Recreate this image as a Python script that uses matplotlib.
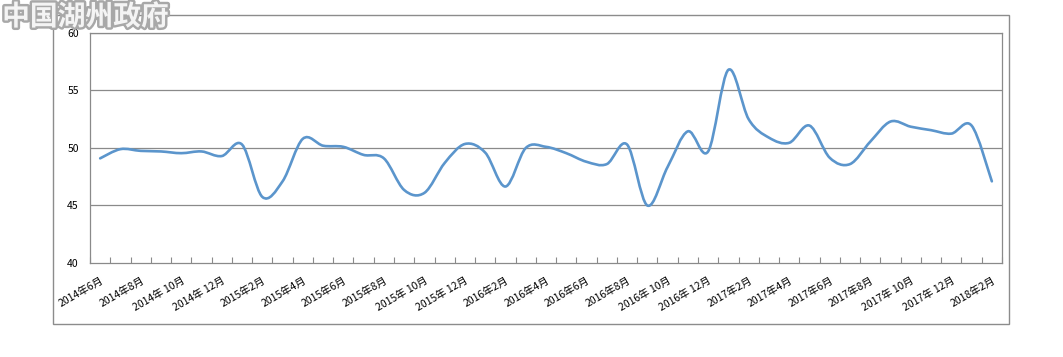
"""
Monthly index line chart, 2014-06 to 2018-02 (Excel-style smoothed line).
"""

import matplotlib

matplotlib.use("Agg")
import matplotlib.pyplot as plt
import matplotlib.patheffects as pe
import numpy as np
from matplotlib.patches import PathPatch, Rectangle
from matplotlib.path import Path

plt.rcParams["font.family"] = ["Noto Sans CJK SC", "DejaVu Sans"]

# data, one value per month from 2014年6月 to 2018年2月
YEARS = [2014] * 7 + [2015] * 12 + [2016] * 12 + [2017] * 12 + [2018] * 2
MONTHS = list(range(6, 13)) + list(range(1, 13)) * 3 + [1, 2]
VALUES = [
    49.1, 49.9, 49.75, 49.7, 49.55, 49.7, 49.3,
    50.3, 45.75, 47.1, 50.8, 50.2, 50.1, 49.4, 49.1, 46.35, 46.1, 48.7, 50.35,
    49.6, 46.65, 50.0, 50.1, 49.55, 48.8, 48.6, 50.3, 45.0, 48.35, 51.45, 49.7,
    56.8, 52.5, 50.9, 50.45, 51.95, 49.15, 48.6, 50.55, 52.3, 51.85, 51.55, 51.25,
    51.95, 47.1,
]
Y_TICKS = [40, 45, 50, 55, 60]

LINE_COLOR = "#5b95cc"
GRID_COLOR = "#8a8a8a"
BORDER_COLOR = "#8c8c8c"


def smooth_path(xs, ys, tension=1 / 6):
    """Catmull-Rom style bezier path through the points (like Excel's smoothed line)."""
    pts = np.column_stack([xs, ys])
    n = len(pts)
    verts = [pts[0]]
    codes = [Path.MOVETO]
    for i in range(n - 1):
        p0 = pts[max(i - 1, 0)]
        p1 = pts[i]
        p2 = pts[i + 1]
        p3 = pts[min(i + 2, n - 1)]
        c1 = p1 + (p2 - p0) * tension
        c2 = p2 - (p3 - p1) * tension
        verts += [c1, c2, p2]
        codes += [Path.CURVE4] * 3
    return Path(verts, codes)


fig = plt.figure(figsize=(10.63, 3.57), dpi=100)
ax = fig.add_axes([0.0847, 0.2633, 0.8579, 0.6443])

x = np.arange(len(VALUES))
ax.add_patch(
    PathPatch(
        smooth_path(x, VALUES),
        facecolor="none",
        edgecolor=LINE_COLOR,
        linewidth=1.9,
        capstyle="round",
        joinstyle="round",
        zorder=3,
    )
)

ax.set_xlim(-0.5, len(VALUES) - 0.5)
ax.set_ylim(40, 60)

ax.set_yticks(Y_TICKS)
ax.set_yticklabels([str(v) for v in Y_TICKS], fontsize=7.5)
ax.tick_params(axis="y", length=0, pad=8)
for v in Y_TICKS[1:]:
    ax.axhline(v, color=GRID_COLOR, linewidth=0.9, zorder=1)

# month boundaries get small inward ticks, labels every second month
ax.set_xticks(np.arange(len(VALUES) + 1) - 0.5, minor=True)
ax.tick_params(axis="x", which="minor", direction="in", length=4, color=GRID_COLOR, width=0.8)
label_idx = list(range(0, len(VALUES), 2))
ax.set_xticks(label_idx)
ax.set_xticklabels(
    [f"{YEARS[i]}年 {MONTHS[i]}月" if MONTHS[i] >= 10 else f"{YEARS[i]}年{MONTHS[i]}月" for i in label_idx],
    fontsize=7.5,
    rotation=30,
    ha="right",
    rotation_mode="anchor",
)
ax.tick_params(axis="x", which="major", length=0, pad=9)

for side in ("left", "right", "top", "bottom"):
    ax.spines[side].set_color(GRID_COLOR)
    ax.spines[side].set_linewidth(0.9)

# outer chart frame
fig.patches.append(
    Rectangle(
        (0.0499, 0.0924), 0.8993, 0.8656,
        transform=fig.transFigure, fill=False, edgecolor=BORDER_COLOR, linewidth=1.0,
    )
)

# watermark
fig.text(
    0.002, 0.952, "中国湖州政府",
    fontsize=20, fontweight="bold", color="#f4f4f4", ha="left", va="center",
    path_effects=[pe.withStroke(linewidth=3.5, foreground="#a8a8a8")],
)

fig.savefig("out.png", dpi=100)
